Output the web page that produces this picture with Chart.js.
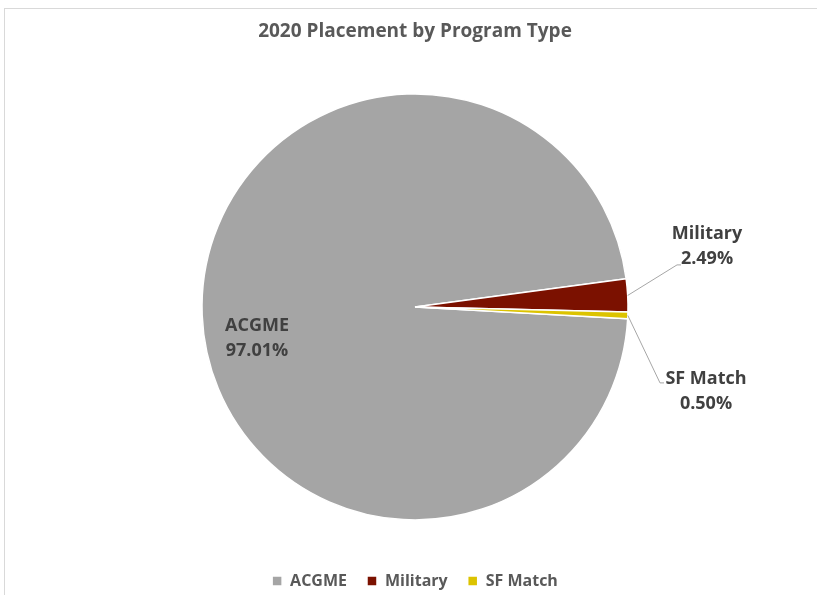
<!DOCTYPE html>
<html>
<head>
<meta charset="utf-8">
<script src="https://cdn.jsdelivr.net/npm/chart.js@4.4.0/dist/chart.umd.min.js"></script>
<style>
  html,body{margin:0;padding:0;background:#fff;}
  #wrap{position:relative;width:817px;height:595px;}
  #frame{position:absolute;left:4px;top:8px;width:830px;height:600px;border:1px solid #d9d9d9;box-sizing:border-box;}
  canvas{position:absolute;left:0;top:0;}
</style>
</head>
<body>
<div id="wrap">
  <div id="frame"></div>
  <canvas id="pie" width="817" height="595"></canvas>
</div>
<script>
const categories=['ACGME','Military','SF Match'];
const shares=[97.01,2.49,0.50];
const colors=['#a5a5a5','#7b1100','#dcc300'];

// label anchors relative to pie centre (px), with elbow for leader lines
const labelSpots=[
  {dx:-158, dy:31, elbow:null},
  {dx:292, dy:-61, elbow:{dx:262, dy:-42, ex:266}},
  {dx:291, dy:84, elbow:{dx:245, dy:76, ex:249}}
];

const labelPlugin={
  id:'pieLabels',
  afterLayout(chart){
    // nudge the legend a little lower, like the original
    if(chart.legend){ chart.legend.top+=4; chart.legend.bottom+=4; }
  },
  afterDatasetsDraw(chart){
    const ctx=chart.ctx;
    const meta=chart.getDatasetMeta(0);
    ctx.save();
    meta.data.forEach((arc,i)=>{
      const cx=arc.x, cy=arc.y;
      const s=labelSpots[i];
      if(s.elbow){
        const mid=(arc.startAngle+arc.endAngle)/2;
        const px=cx+Math.cos(mid)*arc.outerRadius;
        const py=cy+Math.sin(mid)*arc.outerRadius;
        ctx.strokeStyle='#a6a6a6';
        ctx.lineWidth=1;
        ctx.beginPath();
        ctx.moveTo(px,py);
        ctx.lineTo(cx+s.elbow.dx,cy+s.elbow.dy);
        ctx.lineTo(cx+s.elbow.ex,cy+s.elbow.dy);
        ctx.stroke();
      }
      ctx.fillStyle='#404040';
      ctx.font='bold 18px "Open Sans"';
      ctx.textAlign='center';
      ctx.textBaseline='middle';
      ctx.fillText(categories[i],cx+s.dx,cy+s.dy-12);
      ctx.fillText(shares[i].toFixed(2)+'%',cx+s.dx,cy+s.dy+13);
    });
    ctx.restore();
  }
};

new Chart(document.getElementById('pie'),{
  type:'pie',
  data:{
    labels:categories,
    datasets:[{
      data:shares,
      backgroundColor:colors,
      borderColor:'#ffffff',
      borderWidth:1.5,
      radius:213
    }]
  },
  options:{
    responsive:false,
    animation:false,
    rotation:93.2,
    layout:{padding:{left:13,right:0,top:0,bottom:0}},
    plugins:{
      title:{
        display:true,
        text:'2020 Placement by Program Type',
        color:'#595959',
        font:{family:'"Open Sans"',size:19,weight:'bold'},
        padding:{top:20,bottom:22}
      },
      legend:{
        position:'bottom',
        labels:{
          color:'#595959',
          font:{family:'"Open Sans"',size:16,weight:'bold'},
          boxWidth:10,
          boxHeight:10,
          padding:20
        }
      },
      tooltip:{enabled:false}
    }
  },
  plugins:[labelPlugin]
});
</script>
</body>
</html>
